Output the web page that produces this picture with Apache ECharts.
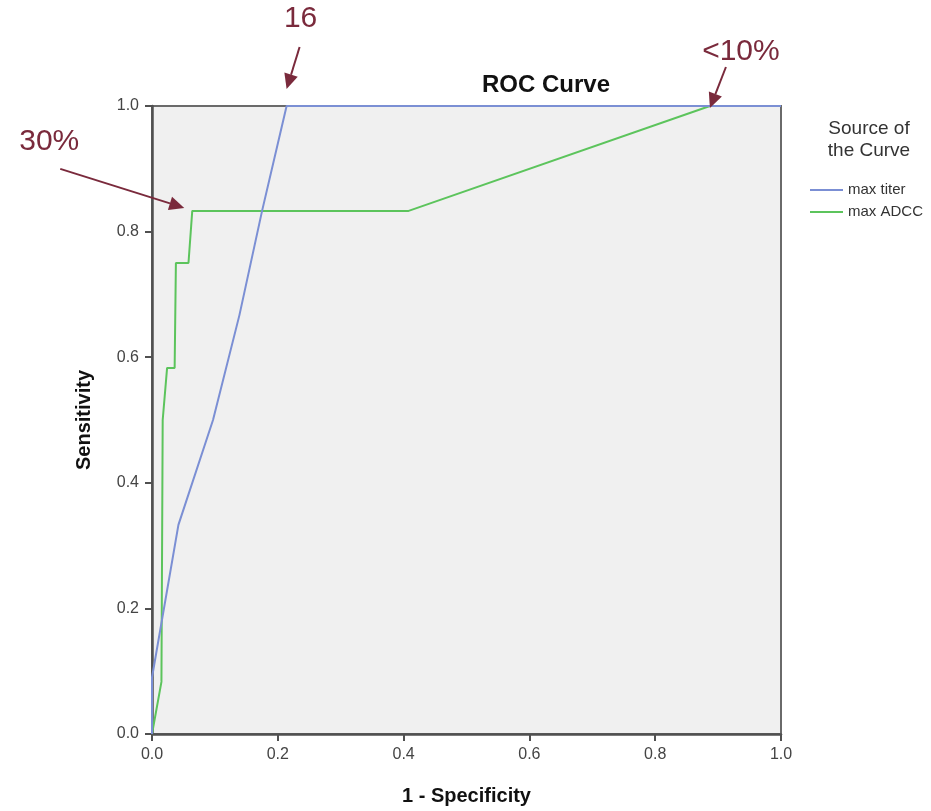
<!DOCTYPE html>
<html>
<head>
<meta charset="utf-8">
<script src="https://cdn.jsdelivr.net/npm/echarts@6/dist/echarts.min.js"></script>
<style>
html, body { margin: 0; background: #fff; }
#chart { width: 931px; height: 811px; }
</style>
</head>
<body>
<div id="chart"></div>
<script>
// ROC points (1 - specificity, sensitivity)
const titerFpr = [0, 0, 0.042, 0.097, 0.139, 0.175, 0.214, 1.0];
const titerTpr = [0, 0.09, 0.333, 0.5, 0.667, 0.833, 1.0, 1.0];
const adccFpr  = [0, 0.015, 0.017, 0.024, 0.036, 0.038, 0.058, 0.064, 0.408, 0.887, 1.0];
const adccTpr  = [0, 0.083, 0.5, 0.583, 0.583, 0.75, 0.75, 0.833, 0.833, 1.0, 1.0];
const seriesNames = ['max titer', 'max ADCC'];
const axisTicks   = [0, 0.2, 0.4, 0.6, 0.8, 1.0];
// annotation labels and the curve point each arrow points at
const noteText   = ['16', '30%', '<10%'];
const noteAnchor = [[0.214, 1.0], [0.064, 0.833], [0.887, 1.0]];

const FONT = "'Liberation Sans', Arial, sans-serif";
const MAROON = '#7a2a3c';
const AXIS_C = '#505050';

const chart = echarts.init(document.getElementById('chart'));

function zip(xs, ys) { return xs.map((x, i) => [x, ys[i]]); }

function axisCommon(name) {
    return {
        type: 'value', min: 0, max: 1, interval: 0.2,
        name: name, nameLocation: 'middle',
        nameTextStyle: { fontFamily: FONT, fontWeight: 'bold', fontSize: 20, color: '#111' },
        axisLine: { show: true, onZero: false, lineStyle: { color: AXIS_C, width: 2.5 } },
        axisTick: { show: true, length: 7, lineStyle: { color: AXIS_C, width: 2 } },
        splitLine: { show: false },
        axisLabel: {
            fontFamily: FONT, fontSize: 16, color: '#444',
            formatter: v => axisTicks.includes(+v.toFixed(1)) ? v.toFixed(1) : ''
        }
    };
}

const xAxis = axisCommon('1 - Specificity');
xAxis.nameGap = 52;
xAxis.axisLabel.margin = 13;
const yAxis = axisCommon('Sensitivity');
yAxis.nameGap = 58;
yAxis.axisLabel.margin = 13;

chart.setOption({
    animation: false,
    grid: {
        left: 152, right: 150, top: 106, bottom: 75,
        show: true, backgroundColor: '#f0f0f0', borderColor: '#6a6a6a', borderWidth: 2
    },
    legend: {
        orient: 'vertical', left: 805, top: 177,
        icon: 'rect', itemWidth: 33, itemHeight: 2, itemGap: 6,
        textStyle: { fontFamily: FONT, fontSize: 15, lineHeight: 16, color: '#333' },
        data: seriesNames
    },
    xAxis: xAxis,
    yAxis: yAxis,
    series: [
        {
            name: seriesNames[0], type: 'line', data: zip(titerFpr, titerTpr),
            symbol: 'none', clip: false, z: 3,
            lineStyle: { color: '#7b8fd4', width: 2 }, itemStyle: { color: '#7b8fd4' }
        },
        {
            name: seriesNames[1], type: 'line', data: zip(adccFpr, adccTpr),
            symbol: 'none', clip: false, z: 2,
            lineStyle: { color: '#5cc45c', width: 2 }, itemStyle: { color: '#5cc45c' }
        }
    ]
});

// arrow tip offset from the anchor, tail offset from the tip, text centre offset from the tail
const tipShift  = [[0, -17], [-8, -3], [0, 2]];
const tailShift = [[13, -42], [-124, -39], [16, -41]];
const textShift = [[1, -28], [-11, -27], [15, -15]];

const graphics = [
    { type: 'text', z: 10,
      style: { text: 'ROC Curve', x: 546, y: 73, align: 'center', font: 'bold 24px ' + FONT, fill: '#111' } },
    { type: 'text', z: 10,
      style: { text: 'Source of\nthe Curve', x: 869, y: 118, align: 'center',
               font: '19px ' + FONT, lineHeight: 22, fill: '#333' } }
];

noteAnchor.forEach((a, i) => {
    const p = chart.convertToPixel({ gridIndex: 0 }, a);
    const tip = [p[0] + tipShift[i][0], p[1] + tipShift[i][1]];
    const tail = [tip[0] + tailShift[i][0], tip[1] + tailShift[i][1]];
    const dx = tip[0] - tail[0], dy = tip[1] - tail[1];
    const len = Math.hypot(dx, dy), ux = dx / len, uy = dy / len;
    const hl = 15, hw = 7;
    const base = [tip[0] - ux * hl, tip[1] - uy * hl];
    graphics.push({
        type: 'line', z: 10,
        shape: { x1: tail[0], y1: tail[1], x2: base[0], y2: base[1] },
        style: { stroke: MAROON, lineWidth: 2 }
    });
    graphics.push({
        type: 'polygon', z: 10,
        shape: { points: [tip, [base[0] - uy * hw, base[1] + ux * hw], [base[0] + uy * hw, base[1] - ux * hw]] },
        style: { fill: MAROON }
    });
    graphics.push({
        type: 'text', z: 10,
        style: { text: noteText[i], x: tail[0] + textShift[i][0], y: tail[1] + textShift[i][1],
                 align: 'center', verticalAlign: 'middle', font: '30px ' + FONT, fill: MAROON }
    });
});

chart.setOption({ graphic: graphics });
</script>
</body>
</html>
